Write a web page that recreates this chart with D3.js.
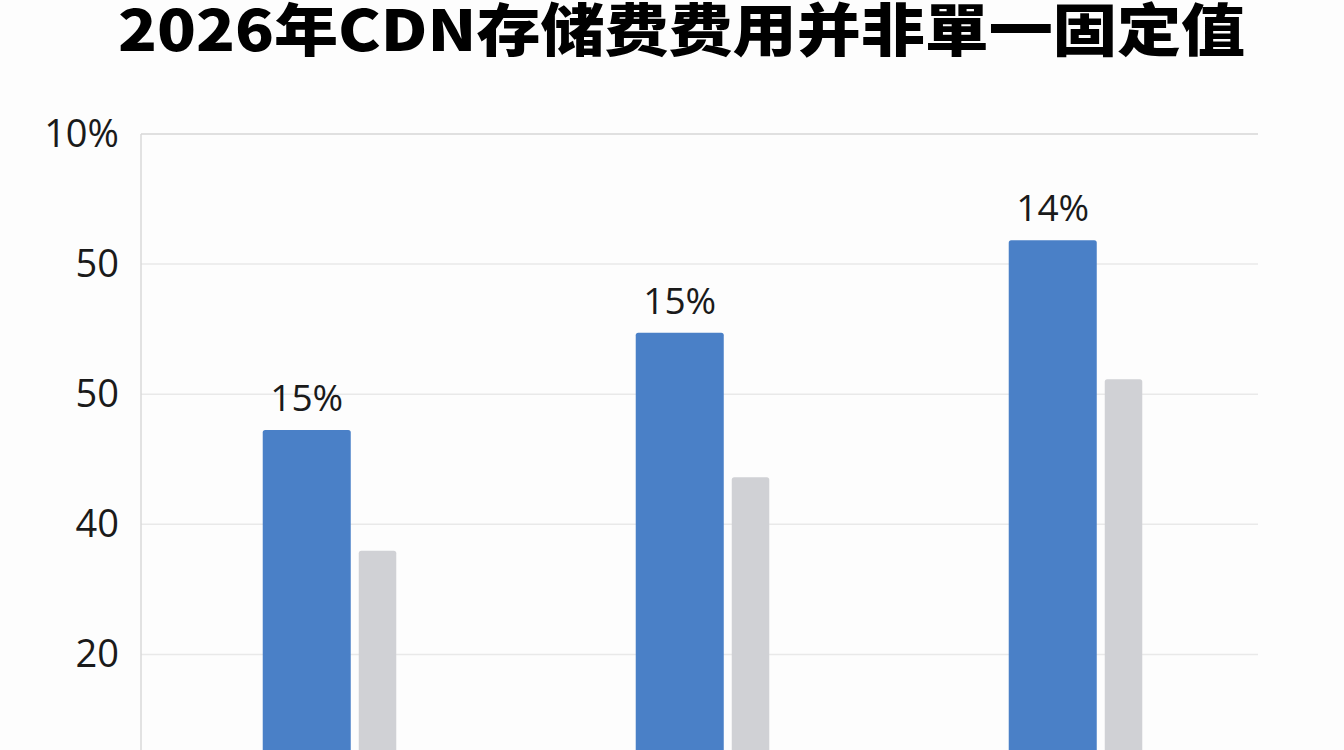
<!DOCTYPE html>
<html>
<head>
<meta charset="utf-8">
<script src="https://cdn.jsdelivr.net/npm/d3@7"></script>
<style>
  html, body { margin: 0; padding: 0; background: #fdfdfd; }
  svg { display: block; }
</style>
</head>
<body>
<svg id="chart" width="1344" height="750"></svg>
<script>
const title = "2026年CDN存储费费用并非單一固定值";
const categories = ["A", "B", "C"];
const blueValues = [27.25, 34.73, 41.83];
const greyValues = [17.97, 23.61, 31.15];
const barLabels = ["15%", "15%", "14%"];
const tickValues = [10, 20, 30, 40, 50];
const tickLabels = ["20", "40", "50", "50", "10%"];

const W = 1344, H = 750;
const svg = d3.select("#chart");
svg.append("rect").attr("width", W).attr("height", H).attr("fill", "#fdfdfd");

const left = 141, right = 1258;
const y = d3.scaleLinear().domain([0, 50]).range([784.5, 134]);
const x0 = d3.scaleBand().domain(categories).range([143, 1262]).paddingInner(0.642).paddingOuter(0.321);

// gridlines
const grid = svg.append("g");
grid.selectAll("line").data(tickValues).join("line")
  .attr("x1", left).attr("x2", right)
  .attr("y1", d => y(d)).attr("y2", d => y(d))
  .attr("stroke", (d, i) => i === tickValues.length - 1 ? "#d6d6d6" : "#e9e9e9")
  .attr("stroke-width", 1.5);

// axis
const axis = d3.axisLeft(y).tickValues(tickValues).tickSize(0).tickPadding(22)
  .tickFormat((d, i) => tickLabels[i]);
const gAxis = svg.append("g").attr("transform", `translate(${left},0)`).call(axis);
gAxis.select(".domain").remove();
gAxis.selectAll("text")
  .attr("font-family", "'Open Sans', sans-serif")
  .attr("font-size", 38)
  .attr("fill", "#1a1a1a")
  .attr("dy", "0.32em");
svg.append("line").attr("x1", left).attr("x2", left).attr("y1", y(50)).attr("y2", H)
  .attr("stroke", "#d9d9d9").attr("stroke-width", 1.5);

// bars
const bw = x0.bandwidth();
const blueW = bw * 88 / 133.5, gap = bw * 8 / 133.5, greyW = bw * 37.5 / 133.5;
const bars = svg.append("g");
bars.selectAll("rect.blue").data(categories).join("rect").attr("class", "blue")
  .attr("x", d => x0(d)).attr("width", blueW)
  .attr("y", (d, i) => y(blueValues[i])).attr("height", (d, i) => y(0) - y(blueValues[i]))
  .attr("rx", 2.5).attr("fill", "#4a80c7");
bars.selectAll("rect.grey").data(categories).join("rect").attr("class", "grey")
  .attr("x", d => x0(d) + blueW + gap).attr("width", greyW)
  .attr("y", (d, i) => y(greyValues[i])).attr("height", (d, i) => y(0) - y(greyValues[i]))
  .attr("rx", 2.5).attr("fill", "#d0d1d5");

// value labels
svg.append("g").selectAll("text").data(categories).join("text")
  .attr("x", d => x0(d) + blueW / 2)
  .attr("y", (d, i) => y(blueValues[i]) - 19)
  .attr("text-anchor", "middle")
  .attr("font-family", "'Open Sans', sans-serif")
  .attr("font-size", 37)
  .attr("fill", "#1a1a1a")
  .text((d, i) => barLabels[i]);

// title
svg.append("text")
  .attr("x", 118).attr("y", 50.5)
  .attr("font-family", "'Noto Sans CJK SC', sans-serif")
  .attr("font-weight", 900)
  .attr("font-size", 57)
  .attr("fill", "#000")
  .attr("textLength", 1127)
  .attr("lengthAdjust", "spacingAndGlyphs")
  .text(title);
</script>
</body>
</html>
